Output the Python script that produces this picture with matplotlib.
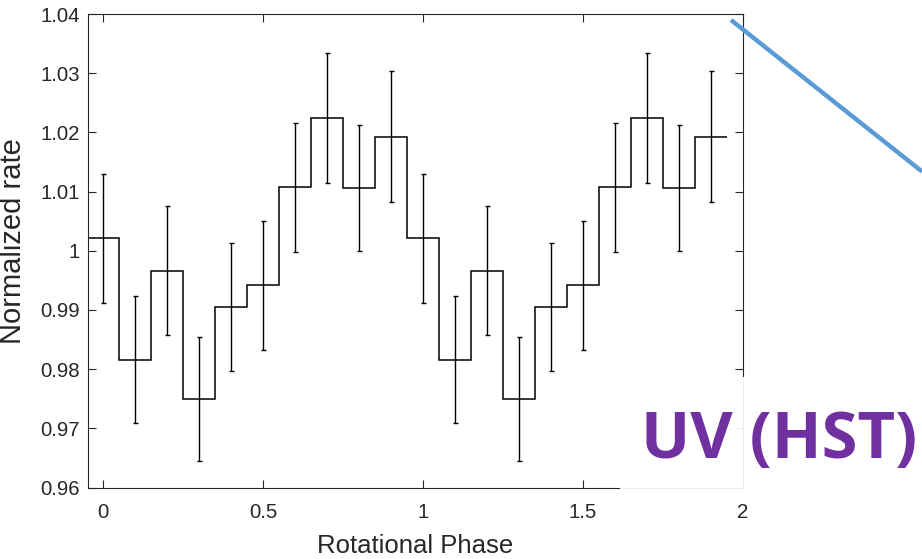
import numpy as np
import matplotlib
matplotlib.use("Agg")
import matplotlib.pyplot as plt
from matplotlib.lines import Line2D
from matplotlib.patches import Rectangle

# ---- data ----
phase = [0.0, 0.1, 0.2, 0.3, 0.4, 0.5, 0.6, 0.7, 0.8, 0.9,
         1.0, 1.1, 1.2, 1.3, 1.4, 1.5, 1.6, 1.7, 1.8, 1.9]
rate = [1.0021, 0.9816, 0.9966, 0.9750, 0.9905, 0.9942, 1.0107, 1.0224, 1.0106, 1.0193,
        1.0021, 0.9816, 0.9966, 0.9750, 0.9905, 0.9942, 1.0107, 1.0224, 1.0106, 1.0193]
err = [0.0109, 0.0107, 0.0109, 0.0105, 0.0108, 0.0109, 0.0109, 0.0110, 0.0107, 0.0110,
       0.0109, 0.0107, 0.0109, 0.0105, 0.0108, 0.0109, 0.0109, 0.0110, 0.0107, 0.0110]
xticks = [0, 0.5, 1, 1.5, 2]
xticklabels = ["0", "0.5", "1", "1.5", "2"]
yticks = [0.96, 0.97, 0.98, 0.99, 1.00, 1.01, 1.02, 1.03, 1.04]
yticklabels = ["0.96", "0.97", "0.98", "0.99", "1", "1.01", "1.02", "1.03", "1.04"]
xlabel = "Rotational Phase"
ylabel = "Normalized rate"
annotation = "UV (HST)"

plt.rcParams['font.family'] = ['Liberation Sans', 'DejaVu Sans']

W, H = 922, 559
fig = plt.figure(figsize=(W / 100, H / 100), dpi=100)
ax = fig.add_axes([88 / W, 1 - 487.5 / H, (743 - 88) / W, (487.5 - 14) / H])

ph = np.asarray(phase)
half = (ph[1] - ph[0]) / 2
edges = np.concatenate([ph - half, [ph[-1] + half]])
ax.stairs(rate, edges, baseline=None, color='black', linewidth=1.1)
ax.errorbar(phase, rate, yerr=err, fmt='none', ecolor='black', elinewidth=1.0,
            capsize=1.8, capthick=1.0)

ax.set_xlim(-0.047, 2.0)
ax.set_ylim(0.96, 1.04)
ax.set_xticks(xticks)
ax.set_xticklabels(xticklabels)
ax.set_yticks(yticks)
ax.set_yticklabels(yticklabels)
ax.tick_params(direction='in', length=6, width=0.8, color='#262626',
               top=True, right=True, labelsize=14.7, labelcolor='#262626')
ax.tick_params(axis='x', pad=11)
ax.tick_params(axis='y', pad=6)
for s in ax.spines.values():
    s.set_color('#262626')
    s.set_linewidth(0.8)

ax.set_xlabel(xlabel, fontsize=18.5, color='#262626', labelpad=9)
ax.set_ylabel(ylabel, fontsize=21, color='#262626')
ax.yaxis.set_label_coords(-0.093, (487.5 - 241.5) / (487.5 - 14))

# white box covering lower right of plot
fig.patches.append(Rectangle((620 / W, 1 - 490 / H), (W - 620) / W, (490 - 377) / H,
                             transform=fig.transFigure, facecolor='white',
                             edgecolor='none', alpha=0.92, zorder=5))
fig.text(917 / W, 1 - 458 / H, annotation, ha='right', va='baseline',
         fontsize=47, fontweight='bold', color='#7030A0',
         family=['Open Sans', 'DejaVu Sans'], zorder=6)

# blue pointer line
fig.lines.append(Line2D([731 / W, 922 / W], [1 - 20 / H, 1 - 171.5 / H],
                        transform=fig.transFigure, color='#5B9BD5',
                        linewidth=3.2, solid_capstyle='butt', zorder=6))

fig.savefig('out.png', dpi=100)
